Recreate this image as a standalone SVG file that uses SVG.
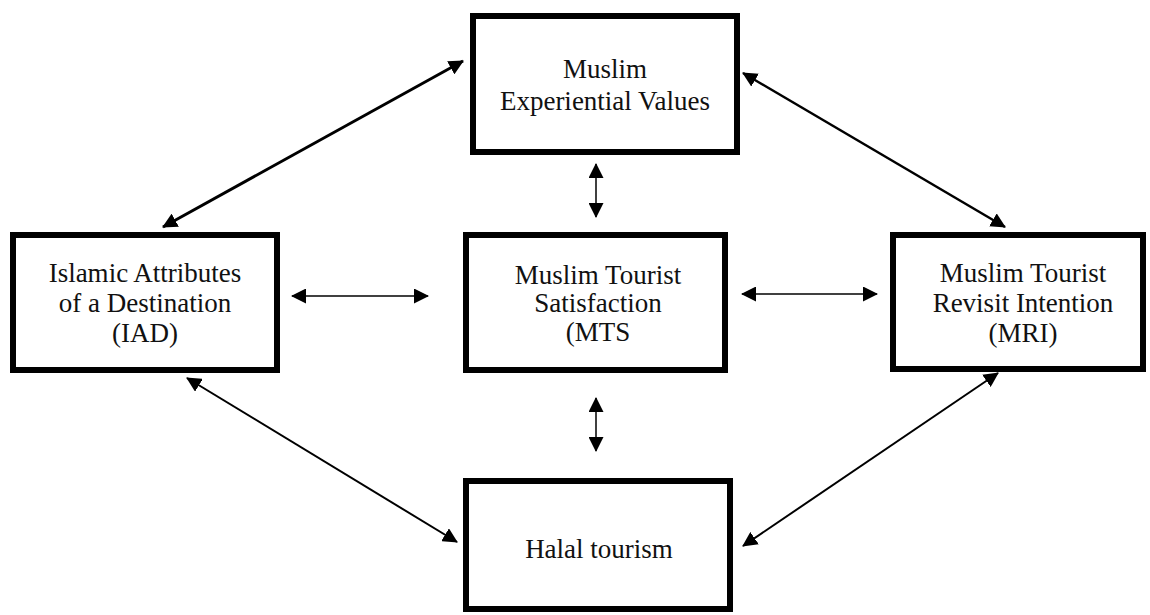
<svg xmlns="http://www.w3.org/2000/svg" width="1150" height="615" viewBox="0 0 1150 615">
<defs>
<marker id="ah" viewBox="0 0 15 15" refX="14" refY="7.5" markerWidth="15" markerHeight="15" markerUnits="userSpaceOnUse" orient="auto-start-reverse">
<path d="M0,0 L15,7.5 L0,15 z" fill="#000"/>
</marker>
</defs>
<style>
.box{fill:#fff;stroke:#000;stroke-width:6}
.t{font-family:"Liberation Serif","Times New Roman",serif;font-size:27px;fill:#111;text-anchor:middle}
.c{stroke:#000;fill:none;marker-start:url(#ah);marker-end:url(#ah)}
</style>
<rect width="1150" height="615" fill="#fff"/>
<g id="connectors">
<line class="c" x1="463" y1="61" x2="163" y2="227" stroke-width="3"/>
<line class="c" x1="743" y1="73" x2="1005" y2="227" stroke-width="2.5"/>
<line class="c" x1="187" y1="378" x2="457" y2="542" stroke-width="2"/>
<line class="c" x1="998" y1="373" x2="743" y2="546" stroke-width="2"/>
<line class="c" x1="292" y1="296" x2="428" y2="296" stroke-width="1.5"/>
<line class="c" x1="742" y1="294" x2="877" y2="294" stroke-width="1.5"/>
<line class="c" x1="596" y1="164" x2="596" y2="217" stroke-width="1.5"/>
<line class="c" x1="596" y1="398" x2="596" y2="451" stroke-width="1.5"/>
</g>
<g id="mev">
<rect class="box" x="473" y="16" width="264" height="136"/>
<text class="t" x="605" y="78">Muslim</text>
<text class="t" x="605" y="110">Experiential Values</text>
</g>
<g id="iad">
<rect class="box" x="13" y="235" width="264" height="135"/>
<text class="t" x="145" y="282">Islamic Attributes</text>
<text class="t" x="145" y="312">of a Destination</text>
<text class="t" x="145" y="342">(IAD)</text>
</g>
<g id="mts">
<rect class="box" x="466" y="235" width="259" height="135"/>
<text class="t" x="598" y="284">Muslim Tourist</text>
<text class="t" x="598" y="312">Satisfaction</text>
<text class="t" x="598" y="341">(MTS</text>
</g>
<g id="mri">
<rect class="box" x="893" y="235" width="250" height="134"/>
<text class="t" x="1023" y="282">Muslim Tourist</text>
<text class="t" x="1023" y="312">Revisit Intention</text>
<text class="t" x="1023" y="342">(MRI)</text>
</g>
<g id="halal">
<rect class="box" x="466" y="481" width="264" height="128"/>
<text class="t" x="599" y="558">Halal tourism</text>
</g>
</svg>
